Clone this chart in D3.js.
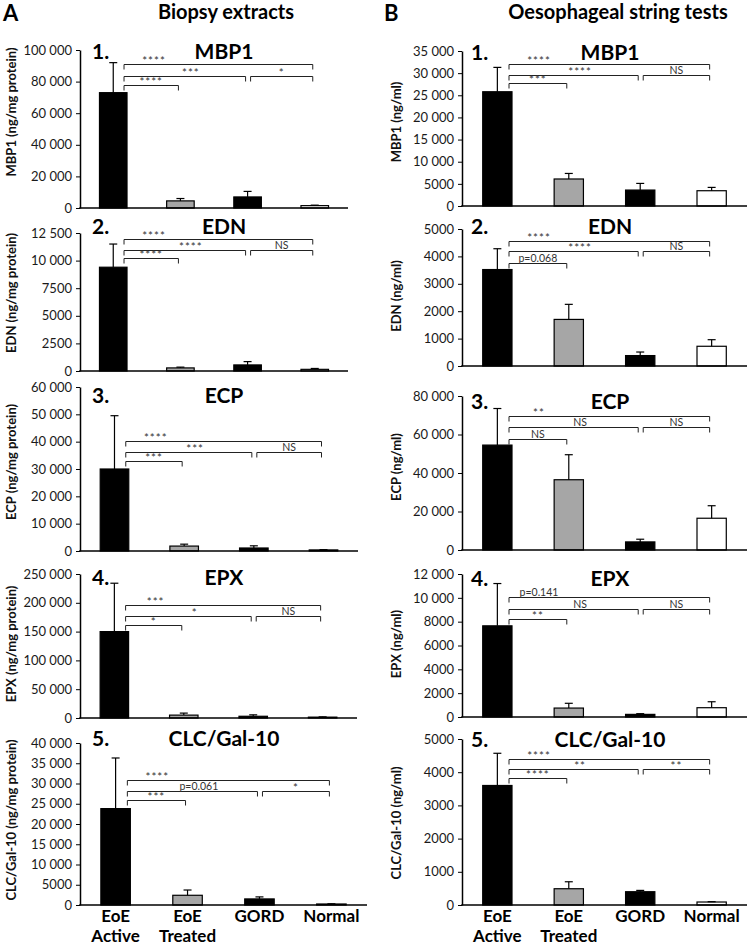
<!DOCTYPE html>
<html><head><meta charset="utf-8">
<script src="https://cdn.jsdelivr.net/npm/d3@7"></script>
<style>
body{margin:0;background:#fff}
svg{display:block}
text{font-family:Lato,'Open Sans',sans-serif}
</style>
</head><body>
<svg id="chart" width="752" height="945"></svg>
<script>
// ---------------- DATA ----------------
const groups = ["EoE Active", "EoE Treated", "GORD", "Normal"];
const groupLabelLines = [["EoE", "Active"], ["EoE", "Treated"], ["GORD"], ["Normal"]];
const markers = ["MBP1", "EDN", "ECP", "EPX", "CLC/Gal-10"];
const columnLetters = ["A", "B"];
const columnTitles = ["Biopsy extracts", "Oesophageal string tests"];
const biopsyUnits = ["MBP1 (ng/mg protein)", "EDN (ng/mg protein)", "ECP (ng/mg protein)", "EPX (ng/mg protein)", "CLC/Gal-10  (ng/mg protein)"];
const stringUnits = ["MBP1 (ng/ml)", "EDN (ng/ml)", "ECP (ng/ml)", "EPX (ng/ml)", "CLC/Gal-10 (ng/ml)"];

const biopsyMeans = [
  [73000, 4500, 7000, 1500],
  [9400, 280, 550, 150],
  [30000, 1800, 1100, 400],
  [150000, 5000, 3000, 1500],
  [23800, 2400, 1500, 250]
];
const biopsyErrors = [
  [19000, 1500, 3500, 300],
  [2100, 70, 300, 80],
  [19500, 700, 800, 100],
  [84000, 3500, 2500, 500],
  [12500, 1300, 500, 50]
];
const stringMeans = [
  [25800, 6100, 3600, 3450],
  [3520, 1700, 380, 720],
  [54500, 36500, 4200, 16500],
  [7650, 750, 220, 780],
  [3600, 490, 400, 90]
];
const stringErrors = [
  [5500, 1250, 1500, 750],
  [760, 550, 130, 240],
  [19000, 13000, 1400, 6500],
  [3550, 400, 60, 500],
  [970, 210, 40, 10]
];
const biopsyTicks = [
  [0, 20000, 40000, 60000, 80000, 100000],
  [0, 2500, 5000, 7500, 10000, 12500],
  [0, 10000, 20000, 30000, 40000, 50000, 60000],
  [0, 50000, 100000, 150000, 200000, 250000],
  [0, 5000, 10000, 15000, 20000, 25000, 30000, 35000, 40000]
];
const stringTicks = [
  [0, 5000, 10000, 15000, 20000, 25000, 30000, 35000],
  [0, 1000, 2000, 3000, 4000, 5000],
  [0, 20000, 40000, 60000, 80000],
  [0, 2000, 4000, 6000, 8000, 10000, 12000],
  [0, 1000, 2000, 3000, 4000, 5000]
];
// comparisons: [Active vs Normal, Active vs GORD, Active vs Treated, GORD vs Normal]
const biopsySig = [
  ["****", "***", "****", "*"],
  ["****", "****", "****", "NS"],
  ["****", "***", "***", "NS"],
  ["***", "*", "*", "NS"],
  ["****", "p=0.061", "***", "*"]
];
const stringSig = [
  ["****", "****", "***", "NS"],
  ["****", "****", "p=0.068", "NS"],
  ["**", "NS", "NS", "NS"],
  ["p=0.141", "NS", "**", "NS"],
  ["****", "**", "****", "**"]
];
// bracket heights in data units: [top, middle, short]
const biopsyBracketLevels = [
  [91000, 83500, 78000],
  [12000, 11000, 10250],
  [40200, 36200, 33000],
  [196000, 177000, 161500],
  [30900, 28150, 25900]
];
const stringBracketLevels = [
  [32000, 29600, 27800],
  [4560, 4200, 3760],
  [69600, 63900, 57700],
  [10070, 9060, 8220],
  [4400, 4100, 3830]
];

// ---------------- LAYOUT / STYLE ----------------
const barColors = ["#000000", "#a6a6a6", "#000000", "#ffffff"];
const columns = [
  {
    axisX: 80, labelX: 11, numX: 92, nameX: 224, letterX: 3, titleX: 226,
    units: biopsyUnits, means: biopsyMeans, errors: biopsyErrors, ticks: biopsyTicks,
    sig: biopsySig, levels: biopsyBracketLevels,
    panels: [
      {top: 50, bottom: 208, right: 348, titleY: 59, labelY: 112},
      {top: 233, bottom: 371, right: 348, titleY: 234, labelY: 293},
      {top: 387, bottom: 551, right: 358, titleY: 403, labelY: 462},
      {top: 574, bottom: 718, right: 357, titleY: 585, labelY: 644},
      {top: 743, bottom: 905, right: 367, titleY: 746, labelY: 820}
    ]
  },
  {
    axisX: 462, labelX: 396, numX: 471, nameX: 610, letterX: 384, titleX: 618,
    units: stringUnits, means: stringMeans, errors: stringErrors, ticks: stringTicks,
    sig: stringSig, levels: stringBracketLevels,
    panels: [
      {top: 51, bottom: 206, right: 747, titleY: 60, labelY: 122},
      {top: 229, bottom: 366, right: 747, titleY: 234, labelY: 296},
      {top: 396, bottom: 550, right: 747, titleY: 409, labelY: 467},
      {top: 574, bottom: 717, right: 747, titleY: 586, labelY: 644},
      {top: 739, bottom: 905, right: 747, titleY: 747, labelY: 823}
    ]
  }
];

const fmt = v => v >= 10000 ? d3.format(",")(v).replace(/,/g, " ") : String(v);

const svg = d3.select("#chart");

columns.forEach((col, ci) => {
  svg.append("text").attr("x", col.letterX).attr("y", 21)
    .attr("font-size", 22).attr("font-weight", 700).text(columnLetters[ci]);
  svg.append("text").attr("x", col.titleX).attr("y", 19)
    .attr("text-anchor", "middle").attr("font-size", 20).attr("font-weight", 700)
    .text(columnTitles[ci]);

  col.panels.forEach((p, pi) => {
    const g = svg.append("g");
    const ticks = col.ticks[pi];
    const y = d3.scaleLinear().domain([0, d3.max(ticks)]).range([p.bottom, p.top]);
    const x = d3.scaleBand().domain(groups).range([col.axisX, p.right])
      .paddingInner(0.59).paddingOuter(0.29);
    const bw = x.bandwidth();
    const cx = k => x(groups[k]) + bw / 2;

    // y label
    g.append("text")
      .attr("transform", `translate(${col.labelX},${p.labelY}) rotate(-90)`)
      .attr("text-anchor", "middle").attr("dominant-baseline", "central")
      .attr("font-size", 13).attr("font-weight", 700).attr("fill", "#111")
      .text(col.units[pi]);

    // bars
    const means = col.means[pi], errs = col.errors[pi];
    g.selectAll("rect.bar").data(groups).join("rect")
      .attr("x", d => x(d)).attr("width", bw)
      .attr("y", (d, i) => y(means[i])).attr("height", (d, i) => y(0) - y(means[i]))
      .attr("fill", (d, i) => barColors[i]).attr("stroke", "#000").attr("stroke-width", 1.2);

    // error bars
    groups.forEach((gr, i) => {
      const xc = cx(i);
      g.append("line").attr("x1", xc).attr("x2", xc)
        .attr("y1", y(means[i])).attr("y2", y(means[i] + errs[i]))
        .attr("stroke", "#000").attr("stroke-width", 1.2);
      g.append("line").attr("x1", xc - 4).attr("x2", xc + 4)
        .attr("y1", y(means[i] + errs[i])).attr("y2", y(means[i] + errs[i]))
        .attr("stroke", "#000").attr("stroke-width", 1.2);
    });

    // axes
    const ax = g.append("g").attr("transform", `translate(${col.axisX},0)`)
      .call(d3.axisLeft(y).tickValues(ticks).tickFormat(fmt).tickSize(4).tickSizeOuter(0).tickPadding(4));
    ax.select(".domain").attr("stroke", "#000").attr("stroke-width", 1.5);
    ax.selectAll(".tick line").attr("stroke", "#000").attr("stroke-width", 1);
    ax.selectAll(".tick text").attr("font-size", 13).attr("fill", "#1a1a1a")
      .style("font-family", "Lato,'Open Sans',sans-serif");
    g.append("line").attr("x1", col.axisX - 0.75).attr("x2", p.right)
      .attr("y1", y(0)).attr("y2", y(0)).attr("stroke", "#000").attr("stroke-width", 1.5);

    // titles
    g.append("text").attr("x", col.numX).attr("y", p.titleY)
      .attr("font-size", 21).attr("font-weight", 700).text((pi + 1) + ".");
    g.append("text").attr("x", col.nameX).attr("y", p.titleY).attr("text-anchor", "middle")
      .attr("font-size", 21).attr("font-weight", 700).text(markers[pi]);

    // significance brackets
    const lv = col.levels[pi], sg = col.sig[pi];
    const left = x(groups[0]) + bw - 3;
    const brackets = [
      {x1: left, x2: cx(3) - 2, lvl: lv[0], label: sg[0], lx: left + 30},
      {x1: left, x2: cx(2) - 2, lvl: lv[1], label: sg[1], lx: null, frac: 0.55},
      {x1: left, x2: cx(1) - 2, lvl: lv[2], label: sg[2], lx: null, frac: 0.5},
      {x1: cx(2) + 3, x2: cx(3) - 2, lvl: lv[1], label: sg[3], lx: null, frac: 0.5}
    ];
    brackets.forEach(b => {
      const yy = Math.round(y(b.lvl)) + 0.5;
      g.append("path")
        .attr("d", `M${b.x1},${yy + 5}V${yy}H${b.x2}V${yy + 5}`)
        .attr("fill", "none").attr("stroke", "#222").attr("stroke-width", 1);
      const isStar = b.label.indexOf("*") === 0;
      g.append("text")
        .attr("x", b.lx !== null ? b.lx : b.x1 + (b.x2 - b.x1) * b.frac)
        .attr("y", yy - (isStar ? 0 : 2))
        .attr("text-anchor", "middle")
        .attr("font-size", isStar ? 11.5 : 10.5)
        .attr("letter-spacing", isStar ? 1 : 0)
        .attr("fill", "#333")
        .text(b.label);
    });

    // category labels under last panel
    if (pi === col.panels.length - 1) {
      groups.forEach((gr, i) => {
        groupLabelLines[i].forEach((line, li) => {
          g.append("text").attr("x", cx(i)).attr("y", p.bottom + 17 + li * 20)
            .attr("text-anchor", "middle").attr("font-size", 17).attr("font-weight", 700)
            .text(line);
        });
      });
    }
  });
});
</script>
</body></html>
